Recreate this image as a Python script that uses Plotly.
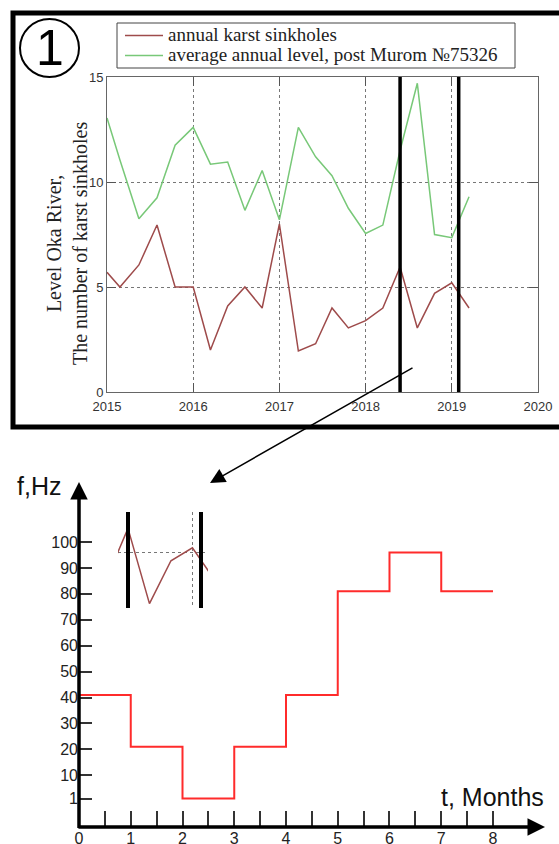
import plotly.graph_objects as go

W, H = 559, 844


def px(x):
    return x / W


def py(y):
    return 1 - y / H


# ---------------- data: top chart ----------------
years = [2015.0, 2015.15, 2015.37, 2015.58, 2015.79, 2016.0, 2016.2, 2016.4, 2016.6, 2016.8,
         2017.0, 2017.22, 2017.42, 2017.61, 2017.8, 2018.0, 2018.2, 2018.4, 2018.6, 2018.8,
         2019.0, 2019.2]
sinkholes = [5.7, 5.0, 6.05, 7.95, 5.0, 5.0, 2.0, 4.1, 5.0, 4.0,
             8.0, 1.95, 2.3, 4.0, 3.05, 3.4, 4.0, 5.95, 3.05, 4.7,
             5.2, 4.0]
level = [13.05, 11.05, 8.25, 9.25, 11.75, 12.6, 10.85, 10.95, 8.65, 10.55,
         8.2, 12.6, 11.2, 10.3, 8.75, 7.55, 7.95, 11.5, 14.7, 7.5,
         7.35, 9.3]
window_years = [2018.4, 2019.08]
year_ticks = [2015, 2016, 2017, 2018, 2019, 2020]
level_ticks = [0, 5, 10, 15]
series_names = ["annual karst sinkholes", "average annual level, post Murom №75326"]

# ---------------- data: bottom chart ----------------
months = [0, 1, 2, 3, 4, 5, 6, 7, 8]
freq_hz = [41, 21, 1, 21, 41, 81, 96, 81, 81]
freq_ticks = [1, 10, 20, 30, 40, 50, 60, 70, 80, 90, 100]
month_ticks = [i / 2 for i in range(17)]
month_labels = [str(int(v)) if v == int(v) else "" for v in month_ticks]

RED = "#9e4b4b"
GREEN = "#78c878"
STEP = "#ff2b2b"
SANS = "Liberation Sans, Arial, sans-serif"
SERIF = "Liberation Serif, Times New Roman, serif"

fig = go.Figure()
fig.add_trace(go.Scatter(x=years, y=sinkholes, mode="lines", name=series_names[0],
                         line=dict(color=RED, width=1.5), xaxis="x", yaxis="y",
                         showlegend=False))
fig.add_trace(go.Scatter(x=years, y=level, mode="lines", name=series_names[1],
                         line=dict(color=GREEN, width=1.5), xaxis="x", yaxis="y",
                         showlegend=False))
fig.add_trace(go.Scatter(x=months, y=freq_hz, mode="lines", line_shape="hv",
                         line=dict(color=STEP, width=2), xaxis="x2", yaxis="y2",
                         showlegend=False, hoverinfo="skip"))
fig.add_trace(go.Scatter(x=years, y=sinkholes, mode="lines",
                         line=dict(color=RED, width=1.5), xaxis="x3", yaxis="y3",
                         showlegend=False, hoverinfo="skip"))

top_axis = dict(showgrid=True, gridcolor="#777", griddash="dot", gridwidth=1,
                ticks="inside", ticklen=9, tickcolor="#555", tickwidth=1,
                showline=True, linecolor="#666", linewidth=1, mirror="ticks",
                zeroline=False, automargin=False,
                tickfont=dict(family=SANS, size=13, color="#333"))

fig.update_layout(
    template="none",
    width=W, height=H, autosize=False,
    margin=dict(l=0, r=0, t=0, b=0, pad=0),
    paper_bgcolor="white", plot_bgcolor="white",
    showlegend=False,
    xaxis=dict(domain=[px(107), px(538)], range=[2015, 2020], tickvals=year_ticks,
               anchor="y", ticklabelstandoff=2, **top_axis),
    yaxis=dict(domain=[py(392), py(77)], range=[0, 15], tickvals=level_ticks,
               anchor="x", **top_axis),
    xaxis2=dict(domain=[px(79), px(545)], range=[0, 9.005], tickvals=month_ticks,
                ticktext=month_labels, ticks="inside", ticklen=16, tickwidth=2,
                tickcolor="#333", showline=False, showgrid=False, zeroline=False,
                automargin=False, anchor="y2",
                tickfont=dict(family=SANS, size=16, color="#222")),
    yaxis2=dict(domain=[py(827), py(482)], range=[-10, 123.2], tickvals=freq_ticks,
                ticks="inside", ticklen=13, tickwidth=2, tickcolor="#333",
                showline=False, showgrid=False, zeroline=False, automargin=False,
                anchor="x2", tickfont=dict(family=SANS, size=16, color="#222")),
    xaxis3=dict(domain=[px(118), px(208)], range=[2018.307, 2019.145], tickvals=[2019],
                showgrid=True, gridcolor="#777", griddash="dot", showticklabels=False,
                ticks="", showline=False, zeroline=False, automargin=False, anchor="y3"),
    yaxis3=dict(domain=[py(608), py(512)], range=[2.88, 6.58], tickvals=[5],
                showgrid=True, gridcolor="#777", griddash="dot", showticklabels=False,
                ticks="", showline=False, zeroline=False, automargin=False, anchor="x3"),
)

shapes = [
    # outer frame of panel 1
    dict(type="rect", xref="paper", yref="paper", x0=px(13), x1=px(575),
         y0=py(427), y1=py(13), line=dict(color="black", width=5)),
    # circled number
    dict(type="circle", xref="paper", yref="paper", x0=px(20), x1=px(79),
         y0=py(77), y1=py(19), line=dict(color="black", width=2)),
    # legend box and samples
    dict(type="rect", xref="paper", yref="paper", x0=px(117), x1=px(515),
         y0=py(68), y1=py(23), line=dict(color="#444", width=1), fillcolor="white"),
    dict(type="line", xref="paper", yref="paper", x0=px(125), x1=px(163),
         y0=py(35.5), y1=py(35.5), line=dict(color=RED, width=1.5)),
    dict(type="line", xref="paper", yref="paper", x0=px(125), x1=px(163),
         y0=py(55.5), y1=py(55.5), line=dict(color=GREEN, width=1.5)),
]
for wy in window_years:
    shapes.append(dict(type="line", xref="x", yref="y domain", x0=wy, x1=wy, y0=0, y1=1,
                       line=dict(color="black", width=3.5)))
    shapes.append(dict(type="line", xref="x3", yref="y3 domain", x0=wy, x1=wy, y0=0, y1=1,
                       line=dict(color="black", width=4)))
fig.update_layout(shapes=shapes)

annotations = [
    dict(text="1", xref="paper", yref="paper", x=px(49.5), y=py(48), showarrow=False,
         xanchor="center", yanchor="middle",
         font=dict(family=SANS, size=50, color="black")),
    dict(text=series_names[0], xref="paper", yref="paper", x=px(166), y=py(35),
         xanchor="left", yanchor="middle", showarrow=False,
         font=dict(family=SERIF, size=19, color="#222")),
    dict(text=series_names[1], xref="paper", yref="paper", x=px(166), y=py(55),
         xanchor="left", yanchor="middle", showarrow=False,
         font=dict(family=SERIF, size=19, color="#222")),
    dict(text="Level Oka River,<br>The number of karst sinkholes", textangle=-90,
         xref="paper", yref="paper", x=px(67), y=py(244), showarrow=False,
         xanchor="center", yanchor="middle",
         font=dict(family=SERIF, size=20, color="#222")),
    dict(text="", xref="paper", yref="paper", x=px(210), y=py(483), ax=204, ay=-116,
         showarrow=True, arrowhead=2, arrowwidth=1.5, arrowsize=2, arrowcolor="black"),
    dict(text="", xref="x2", yref="y2", x=9.005, y=-10, axref="x2", ayref="y2",
         ax=-0.04, ay=-10, showarrow=True, arrowhead=2, arrowwidth=3.5, arrowsize=1,
         arrowcolor="black"),
    dict(text="", xref="x2", yref="y2", x=0, y=123.2, axref="x2", ayref="y2",
         ax=0, ay=-11, showarrow=True, arrowhead=2, arrowwidth=3.5, arrowsize=1,
         arrowcolor="black"),
    dict(text="f,Hz", xref="paper", yref="paper", x=px(39), y=py(486), showarrow=False,
         xanchor="center", yanchor="middle",
         font=dict(family=SANS, size=25, color="#111")),
    dict(text="t, Months", xref="paper", yref="paper", x=px(492), y=py(797),
         showarrow=False, xanchor="center", yanchor="middle",
         font=dict(family=SANS, size=25, color="#111")),
]
fig.update_layout(annotations=annotations)

fig.write_html("out.html", config={"displayModeBar": False},
               post_script="document.body.style.margin='0';document.body.style.overflow='hidden';")
